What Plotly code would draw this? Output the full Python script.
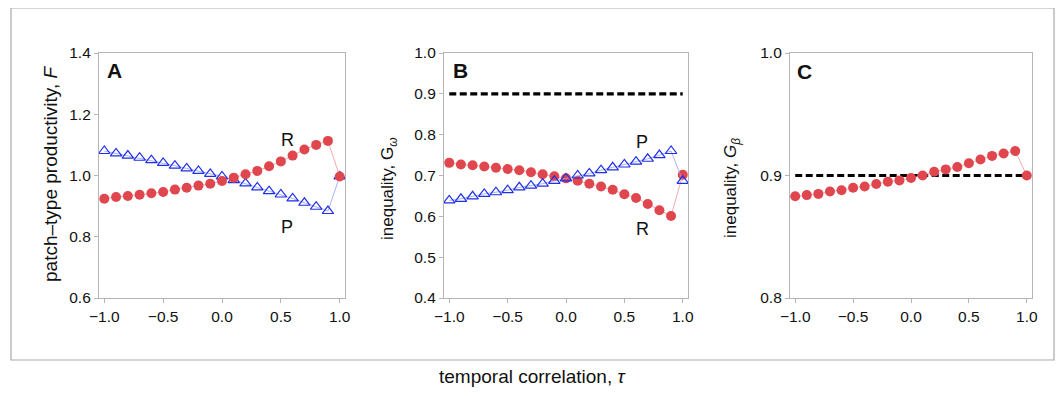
import plotly.graph_objects as go

# ---------------- data ----------------
tau = [-1.0, -0.9, -0.8, -0.7, -0.6, -0.5, -0.4, -0.3, -0.2, -0.1, 0.0,
       0.1, 0.2, 0.3, 0.4, 0.5, 0.6, 0.7, 0.8, 0.9, 1.0]

A_R = [0.924, 0.930, 0.933, 0.937, 0.942, 0.946, 0.954, 0.960, 0.967, 0.973, 0.982,
       0.993, 1.004, 1.015, 1.030, 1.046, 1.065, 1.085, 1.100, 1.113, 0.997]
A_P = [1.080, 1.072, 1.065, 1.058, 1.050, 1.041, 1.032, 1.023, 1.015, 1.005, 0.997,
       0.985, 0.974, 0.961, 0.949, 0.938, 0.925, 0.911, 0.898, 0.884, 0.997]

B_R = [0.731, 0.727, 0.725, 0.722, 0.719, 0.716, 0.713, 0.708, 0.703, 0.698, 0.693,
       0.687, 0.680, 0.673, 0.665, 0.654, 0.645, 0.630, 0.615, 0.601, 0.702]
B_P = [0.639, 0.643, 0.649, 0.655, 0.659, 0.664, 0.671, 0.675, 0.680, 0.687, 0.693,
       0.700, 0.705, 0.713, 0.720, 0.727, 0.734, 0.741, 0.750, 0.760, 0.687]

C_R = [0.883, 0.884, 0.885, 0.887, 0.888, 0.890, 0.891, 0.893, 0.895, 0.896, 0.898,
       0.900, 0.903, 0.905, 0.907, 0.910, 0.913, 0.916, 0.918, 0.920, 0.900]

ref_x = [-1.0, 1.0]
B_ref = [0.9, 0.9]
C_ref = [0.9, 0.9]

x_ticks = [-1.0, -0.5, 0.0, 0.5, 1.0]
x_ticktext = ["\u22121.0", "\u22120.5", "0.0", "0.5", "1.0"]
A_yticks = [0.6, 0.8, 1.0, 1.2, 1.4]
B_yticks = [0.4, 0.5, 0.6, 0.7, 0.8, 0.9, 1.0]
C_yticks = [0.8, 0.9, 1.0]

# ---------------- layout helpers ----------------
# the page body has an 8px margin on every side; size the figure so that
# the page never overflows the 1063x396 window (no scrollbars)
OFF = 8
W, H = 1063 - 2 * OFF, 396 - 2 * OFF
FONT = "Liberation Sans, Arial, sans-serif"
RED = "#e0464e"
BLUE = "#1f2fe8"
RED_LINE = "rgba(240,150,155,0.8)"
BLUE_LINE = "rgba(150,160,245,0.8)"
AXC = "#b5b5b5"


def px_x(p):
    return (p - OFF) / W


def px_y(p):
    return 1 - (p - OFF) / H


panels = [(99, 345), (444, 688), (790, 1032)]
ytop, ybot = 53, 298

fig = go.Figure()


def red_trace(y, ax):
    return go.Scatter(x=tau, y=y, mode="lines+markers",
                      line=dict(color=RED_LINE, width=1),
                      marker=dict(symbol="circle", size=10, color=RED),
                      xaxis="x" + ax, yaxis="y" + ax, showlegend=False)


def blue_trace(y, ax):
    return go.Scatter(x=tau, y=y, mode="lines+markers",
                      line=dict(color=BLUE_LINE, width=1),
                      marker=dict(symbol="triangle-up-open", size=10, color=BLUE,
                                  line=dict(width=1.2, color=BLUE)),
                      xaxis="x" + ax, yaxis="y" + ax, showlegend=False)


def ref_trace(y, ax):
    return go.Scatter(x=ref_x, y=y, mode="lines",
                      line=dict(color="black", width=3.2, dash="7px,3.5px"),
                      xaxis="x" + ax, yaxis="y" + ax, showlegend=False)


# panel A
fig.add_trace(blue_trace(A_P, ""))
fig.add_trace(red_trace(A_R, ""))
# panel B
fig.add_trace(ref_trace(B_ref, "2"))
fig.add_trace(red_trace(B_R, "2"))
fig.add_trace(blue_trace(B_P, "2"))
# panel C
fig.add_trace(ref_trace(C_ref, "3"))
fig.add_trace(red_trace(C_R, "3"))

tickfont = dict(family=FONT, size=15.5, color="#111")
common_x = dict(range=[-1.045, 1.045], tickmode="array", tickvals=x_ticks,
                ticktext=x_ticktext, showgrid=False, zeroline=False,
                showline=True, mirror=True, linecolor=AXC, linewidth=1.2,
                ticks="outside", ticklen=4, tickcolor=AXC, tickfont=tickfont,
                automargin=False)
common_y = dict(showgrid=False, zeroline=False, showline=True, mirror=True,
                linecolor=AXC, linewidth=1.2, ticks="outside", ticklen=4,
                tickcolor=AXC, tickfont=tickfont, tickmode="array",
                automargin=False)

layout = dict(template="none", width=W, height=H, autosize=False,
              margin=dict(l=0, r=0, t=0, b=0, pad=0, autoexpand=False),
              paper_bgcolor="white", plot_bgcolor="white",
              font=dict(family=FONT, color="#111"))
yranges = [[0.6, 1.4], [0.4, 1.0], [0.8, 1.0]]
yticks = [A_yticks, B_yticks, C_yticks]
for i, (x0, x1) in enumerate(panels):
    sfx = "" if i == 0 else str(i + 1)
    layout["xaxis" + sfx] = dict(common_x, domain=[px_x(x0), px_x(x1)],
                                 anchor="y" + sfx)
    layout["yaxis" + sfx] = dict(common_y, domain=[px_y(ybot), px_y(ytop)],
                                 range=yranges[i], tickvals=yticks[i],
                                 ticktext=["%.1f" % v for v in yticks[i]],
                                 anchor="x" + sfx)
fig.update_layout(**layout)

ann = []


def add_text(text, xp, yp, size, bold=False, angle=0, xanchor="center"):
    ann.append(dict(text=("<b>%s</b>" % text) if bold else text,
                    x=px_x(xp), y=px_y(yp), xref="paper", yref="paper",
                    showarrow=False, textangle=angle, xanchor=xanchor,
                    yanchor="middle", borderpad=0,
                    font=dict(family=FONT, size=size, color="#111")))


# panel letters
add_text("A", 106, 71, 21, bold=True, xanchor="left")
add_text("B", 452, 71, 21, bold=True, xanchor="left")
add_text("C", 796, 72, 21, bold=True, xanchor="left")
# series labels
add_text("R", 287, 140, 18)
add_text("P", 287, 227, 18)
add_text("P", 642, 142, 18)
add_text("R", 642, 229, 18)
# axis titles
add_text("patch\u2013type productivity, <i>F</i>", 50, 174, 19, angle=-90)
add_text("inequality, G<sub><i>\u03c9</i></sub>", 389, 189, 17, angle=-90)
add_text("inequality, <i>G</i><sub><i>\u03b2</i></sub>", 732, 188, 17, angle=-90)
add_text("temporal correlation, <i>\u03c4</i>", 532, 376, 19)

fig.update_layout(annotations=ann,
                  shapes=[dict(type="rect", xref="paper", yref="paper",
                               x0=px_x(11), x1=px_x(1054), y0=px_y(360), y1=px_y(8),
                               line=dict(color="#aaaaaa", width=1.2))])

fig.write_html("out.html")
